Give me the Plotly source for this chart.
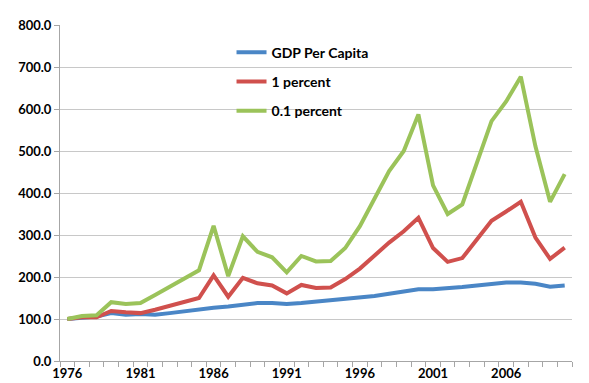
import plotly.graph_objects as go

years = list(range(1976, 2011))
gdp = [100, 104, 106, 114, 110, 112, 110, 114, 119, 124, 127, 130, 134, 138, 138, 136, 138, 141, 145, 148,
       151, 155, 160, 166, 171, 171, 173, 176, 180, 183, 187, 187, 184, 177, 180]
one_pct = [100, 104, 104, 119, 116, 114, 122, 131, 140, 150, 204, 153, 198, 185, 180, 161, 181, 174, 175, 195,
           220, 251, 282, 309, 341, 269, 236, 245, 290, 334, 356, 379, 294, 243, 270]
tenth_pct = [100, 107, 109, 140, 136, 138, 157, 177, 197, 216, 322, 202, 297, 260, 247, 211, 250, 237, 238, 269,
             321, 386, 452, 500, 587, 418, 350, 373, 472, 571, 618, 677, 511, 379, 445]
xtick_labels = [str(y) for y in range(1976, 2011, 5)]
ytick_vals = list(range(0, 801, 100))

series = [("GDP Per Capita", gdp, "#4A86C6"), ("1 percent", one_pct, "#D0504D"), ("0.1 percent", tenth_pct, "#9BC35A")]

fig = go.Figure()
for i, (name, vals, col) in enumerate(series):
    fig.add_trace(go.Scatter(x=years, y=vals, name=name, mode="lines",
                             line=dict(color=col, width=4), legendgroup=str(i)))

fam = "Lato, 'Liberation Sans', sans-serif"
fig.update_layout(
    width=589, height=383,
    margin=dict(l=52, r=25, t=9, b=30),
    paper_bgcolor="white", plot_bgcolor="white",
    font=dict(family=fam, size=13, color="black"),
    showlegend=True,
    legend=dict(x=0.335, y=0.965, xanchor="left", yanchor="top", bgcolor="rgba(0,0,0,0)",
                font=dict(family=fam, size=14, color="black", weight="bold"),
                traceorder="grouped", tracegroupgap=8),
    xaxis=dict(range=[1975.5, 2010.5], tickmode="array", tickvals=[int(t) for t in xtick_labels],
               ticktext=xtick_labels, ticks="", showgrid=False, showline=True, linecolor="#a6a6a6",
               linewidth=1, tickfont=dict(family=fam, size=13, weight="bold"), zeroline=False,
               minor=dict(ticks="outside", tickmode="linear", tick0=1975.5, dtick=1, ticklen=5,
                          tickcolor="#a6a6a6", showgrid=False)),
    yaxis=dict(range=[0, 800], tickmode="array", tickvals=ytick_vals,
               ticktext=[f"{v:.1f}" for v in ytick_vals], showgrid=True, gridcolor="#c8c8c8",
               gridwidth=1, showline=True, linecolor="#a6a6a6", linewidth=1, ticks="outside",
               ticklen=5, tickcolor="#a6a6a6", tickfont=dict(family=fam, size=13, weight="bold"),
               zeroline=False),
)
fig.write_html("out.html")
